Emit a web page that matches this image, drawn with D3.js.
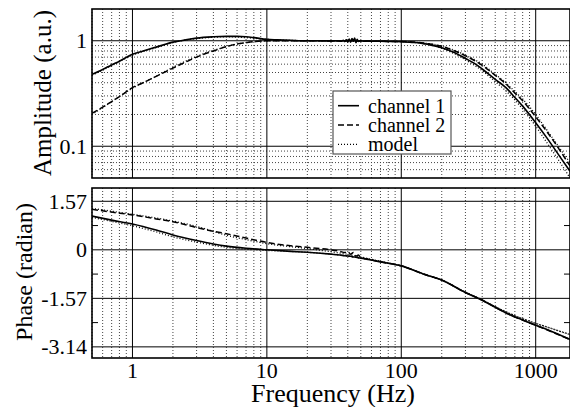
<!DOCTYPE html>
<html><head><meta charset="utf-8">
<script src="https://cdn.jsdelivr.net/npm/d3@7"></script>
<style>body{margin:0;background:#fff}svg{display:block}svg text{font-family:'Liberation Serif','Times New Roman','DejaVu Serif',serif !important}</style>
</head><body><svg id="c" width="570" height="407"></svg>
<script>
// ---------- data ----------
const ampFreq = [0.5,0.6,0.7,0.8,1,1.2,1.5,2,2.5,3,4,5,6,7,8,10,12,15,20,25,30,33,36,37,38,39,40,41,42,43,44,45,46,47,48,50,53,56,60,70,80,100,120,140,160,200,250,300,350,400,500,600,700,800,1000,1200,1500,1800];
const ampCh1 = [0.48,0.535,0.59,0.64,0.745,0.8,0.87,0.97,1.02,1.06,1.09,1.1,1.1,1.09,1.07,1.03,1.02,1.01,1.0,1.0,0.995,1.0,0.99,1.01,0.985,1.02,0.98,1.04,0.97,1.05,0.99,1.06,0.96,1.03,0.985,1.0,0.99,0.995,0.99,0.99,0.985,0.98,0.965,0.95,0.92,0.86,0.77,0.68,0.61,0.54,0.43,0.36,0.29,0.24,0.167,0.122,0.081,0.058];
const ampCh2 = [0.205,0.235,0.265,0.295,0.36,0.4,0.46,0.55,0.63,0.7,0.8,0.88,0.935,0.96,0.98,1.0,1.0,1.0,1.0,1.0,0.995,1.0,0.99,1.0,0.985,1.01,0.98,1.02,0.98,1.03,0.99,1.02,0.98,1.01,0.99,1.0,0.99,0.995,0.99,0.99,0.985,0.985,0.975,0.96,0.935,0.885,0.8,0.72,0.65,0.585,0.47,0.39,0.32,0.27,0.19,0.14,0.093,0.065];
const modelFreq = [0.5,0.7,1,1.5,2,3,4,5,7,10,15,20,30,50,70,100,140,200,250,300,400,500,600,700,800,1000,1200,1500,1800];
const ampModel1 = [0.47,0.58,0.73,0.86,0.96,1.05,1.08,1.09,1.07,1.03,1.01,1.0,1.0,0.995,0.99,0.98,0.945,0.85,0.75,0.66,0.52,0.41,0.335,0.275,0.225,0.155,0.11,0.072,0.05];
const ampModel2 = [0.2,0.265,0.355,0.46,0.56,0.71,0.81,0.88,0.96,0.995,1.0,1.0,1.0,0.995,0.99,0.985,0.96,0.89,0.81,0.73,0.6,0.48,0.4,0.33,0.28,0.2,0.145,0.097,0.07];

const phFreq = [0.5,0.7,1,1.5,2,3,4,5,7,10,15,20,25,30,35,38,40,42,44,46,48,50,55,60,70,100,150,200,300,400,500,600,700,800,1000,1200,1500,1800];
const phCh1 = [1.09,0.96,0.835,0.64,0.48,0.3,0.19,0.12,0.05,0.0,-0.05,-0.08,-0.11,-0.14,-0.17,-0.19,-0.2,-0.21,-0.23,-0.24,-0.26,-0.27,-0.3,-0.33,-0.39,-0.52,-0.8,-0.98,-1.38,-1.63,-1.86,-2.04,-2.17,-2.27,-2.44,-2.57,-2.75,-2.9];
const phCh2 = [1.31,1.22,1.13,1.0,0.91,0.72,0.6,0.52,0.38,0.24,0.13,0.08,0.04,0.0,-0.05,-0.09,-0.06,-0.14,-0.09,-0.2,-0.17,-0.25,-0.29,-0.33,-0.39,-0.52,-0.8,-0.98,-1.38,-1.63,-1.86,-2.04,-2.17,-2.27,-2.44,-2.58,-2.76,-2.9];
const phModelFreq = [0.5,0.7,1,1.5,2,3,5,7,10,20,40,70,100,150,200,300,400,500,700,1000,1200,1500,1800];
const phModel1 = [1.05,0.92,0.78,0.58,0.42,0.25,0.08,0.02,-0.02,-0.08,-0.2,-0.38,-0.52,-0.8,-0.98,-1.37,-1.62,-1.84,-2.13,-2.38,-2.49,-2.63,-2.74];
const phModel2 = [1.34,1.25,1.15,1.03,0.93,0.76,0.47,0.33,0.2,0.04,-0.15,-0.37,-0.52,-0.8,-0.98,-1.37,-1.62,-1.84,-2.13,-2.38,-2.49,-2.63,-2.74];

const xTickVals = [1,10,100,1000];
const xTickLabels = ["1","10","100","1000"];
const ampTickVals = [0.1,1];
const ampTickLabels = ["0.1","1"];
const phTickVals = [1.57,0,-1.57,-3.14];
const phTickLabels = ["1.57","0","-1.57","-3.14"];
const phMinorVals = [0.785,-0.785,-2.355];
const legendLabels = ["channel 1","channel 2","model"];

// ---------- layout ----------
const L=92, R=570, T1=9, B1=178, T2=188, B2=358;
const svg = d3.select("#c");
const x = d3.scaleLog().domain([0.5,1800]).range([L,R]);
const yA = d3.scaleLog().domain([0.05,2]).range([B1,T1]);
const yP = d3.scaleLinear().domain([-3.5,2]).range([B2,T2]);

const defs = svg.append("defs");
defs.append("clipPath").attr("id","c1").append("rect").attr("x",L).attr("y",T1).attr("width",R-L).attr("height",B1-T1);
defs.append("clipPath").attr("id","c2").append("rect").attr("x",L).attr("y",T2).attr("width",R-L).attr("height",B2-T2);

const xAll = x.ticks();
const xMinor = xAll.filter(v => Math.abs(Math.log10(v)-Math.round(Math.log10(v)))>1e-6);
const aAll = yA.ticks();
const aMinor = aAll.filter(v => Math.abs(Math.log10(v)-Math.round(Math.log10(v)))>1e-6 && v>0.05 && v<2);

function panelGrid(g, top, bot, yMinorPos, yMajorPos){
  g.selectAll(".vx").data(xMinor).join("line").attr("x1",d=>x(d)).attr("x2",d=>x(d)).attr("y1",top).attr("y2",bot)
    .attr("stroke","#444").attr("stroke-width",1).attr("stroke-dasharray","1,2");
  g.selectAll(".hy").data(yMinorPos).join("line").attr("class","hy").attr("x1",L).attr("x2",R).attr("y1",d=>d).attr("y2",d=>d)
    .attr("stroke","#444").attr("stroke-width",1).attr("stroke-dasharray","1,2");
  g.selectAll(".vX").data(xTickVals).join("line").attr("class","vX").attr("x1",d=>x(d)).attr("x2",d=>x(d)).attr("y1",top).attr("y2",bot)
    .attr("stroke","#000").attr("stroke-width",1);
  g.selectAll(".hY").data(yMajorPos).join("line").attr("class","hY").attr("x1",L).attr("x2",R).attr("y1",d=>d).attr("y2",d=>d)
    .attr("stroke","#000").attr("stroke-width",1);
}
const g1 = svg.append("g");
panelGrid(g1, T1, B1, aMinor.map(yA), ampTickVals.map(yA));
const g2 = svg.append("g");
panelGrid(g2, T2, B2, [], phTickVals.map(yP));
g2.selectAll(".mt").data(phMinorVals).join("line").attr("x1",L).attr("x2",L+6).attr("y1",d=>yP(d)).attr("y2",d=>yP(d)).attr("stroke","#000");
g2.selectAll(".mtr").data(phMinorVals).join("line").attr("x1",R-6).attr("x2",R).attr("y1",d=>yP(d)).attr("y2",d=>yP(d)).attr("stroke","#000");

// ---------- curves ----------
const styles = {
  ch1:{dash:null,w:1.6},
  ch2:{dash:"6,3",w:1.5},
  model:{dash:"1,2",w:1.3}
};
function drawLine(g, clip, xs, ys, yScale, st){
  const data = xs.map((f,i)=>[f,ys[i]]);
  g.append("path").datum(data).attr("clip-path",`url(#${clip})`)
    .attr("d", d3.line().x(d=>x(d[0])).y(d=>yScale(d[1])).curve(d3.curveMonotoneX))
    .attr("fill","none").attr("stroke","#000").attr("stroke-width",st.w)
    .attr("stroke-dasharray",st.dash);
}
const cg = svg.append("g");
drawLine(cg,"c1",modelFreq,ampModel1,yA,styles.model);
drawLine(cg,"c1",modelFreq,ampModel2,yA,styles.model);
drawLine(cg,"c1",ampFreq,ampCh2,yA,styles.ch2);
drawLine(cg,"c1",ampFreq,ampCh1,yA,styles.ch1);
drawLine(cg,"c2",phModelFreq,phModel1,yP,styles.model);
drawLine(cg,"c2",phModelFreq,phModel2,yP,styles.model);
drawLine(cg,"c2",phFreq,phCh2,yP,styles.ch2);
drawLine(cg,"c2",phFreq,phCh1,yP,styles.ch1);

// ---------- frames ----------
svg.append("rect").attr("x",L).attr("y",T1).attr("width",R-L).attr("height",B1-T1).attr("fill","none").attr("stroke","#000").attr("stroke-width",1.6);
svg.append("rect").attr("x",L).attr("y",T2).attr("width",R-L).attr("height",B2-T2).attr("fill","none").attr("stroke","#000").attr("stroke-width",1.6);

// ---------- tick labels ----------
svg.selectAll(".xl").data(xTickVals).join("text").attr("x",d=>x(d)).attr("y",378).attr("text-anchor","middle")
  .attr("font-size",22).text((d,i)=>xTickLabels[i]);
svg.selectAll(".al").data(ampTickVals).join("text").attr("x",87).attr("y",d=>yA(d)).attr("dy","0.34em").attr("text-anchor","end")
  .attr("font-size",22).text((d,i)=>ampTickLabels[i]);
svg.selectAll(".pl").data(phTickVals).join("text").attr("x",87).attr("y",d=>yP(d)).attr("dy","0.34em").attr("text-anchor","end")
  .attr("font-size",22).text((d,i)=>phTickLabels[i]);

svg.append("text").attr("x",333).attr("y",402).attr("text-anchor","middle").attr("font-size",26).text("Frequency (Hz)");
svg.append("text").attr("transform","translate(51,93) rotate(-90)").attr("text-anchor","middle").attr("font-size",25).text("Amplitude (a.u.)");
svg.append("text").attr("transform","translate(32,272) rotate(-90)").attr("text-anchor","middle").attr("font-size",24).text("Phase (radian)");

// ---------- legend ----------
const lg = svg.append("g");
lg.append("rect").attr("x",333).attr("y",91).attr("width",118).attr("height",63).attr("fill","#fff").attr("stroke","#555").attr("stroke-width",1.2);
const lst = [styles.ch1,styles.ch2,styles.model];
legendLabels.forEach((t,i)=>{
  const yy = 105.7 + i*19.3;
  lg.append("line").attr("x1",338).attr("x2",359).attr("y1",yy).attr("y2",yy).attr("stroke","#000")
    .attr("stroke-width",lst[i].w).attr("stroke-dasharray",lst[i].dash);
  lg.append("text").attr("x",368).attr("y",yy).attr("dy","0.34em").attr("font-size",20).text(t);
});
</script></body></html>
